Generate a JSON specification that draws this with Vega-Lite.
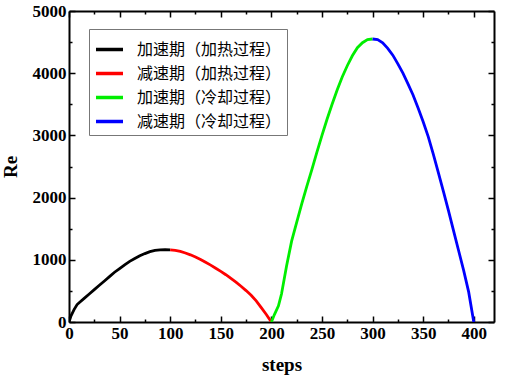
{
  "$schema": "https://vega.github.io/schema/vega-lite/v6.json",
  "autosize": {"type": "none"},
  "width": 425,
  "height": 311,
  "padding": {"left": 69, "top": 11, "right": 13, "bottom": 61},
  "background": "white",
  "config": {
    "view": {"stroke": null},
    "axis": {
      "domainColor": "black", "domainWidth": 2, "tickColor": "black", "tickWidth": 1.5,
      "labelFont": "Liberation Serif", "labelFontWeight": "bold", "labelFontSize": 17, "labelColor": "black",
      "titleFont": "Liberation Serif", "titleFontWeight": "bold", "titleFontSize": 19, "titleColor": "black",
      "grid": false
    }
  },
  "data": {"values": [
    {"s": "a", "x": 0, "y": 0}, {"s": "a", "x": 2, "y": 100}, {"s": "a", "x": 5, "y": 200}, {"s": "a", "x": 8, "y": 280},
    {"s": "a", "x": 10, "y": 310}, {"s": "a", "x": 15, "y": 380}, {"s": "a", "x": 20, "y": 450}, {"s": "a", "x": 25, "y": 520},
    {"s": "a", "x": 30, "y": 590}, {"s": "a", "x": 35, "y": 660}, {"s": "a", "x": 40, "y": 730}, {"s": "a", "x": 45, "y": 800},
    {"s": "a", "x": 50, "y": 860}, {"s": "a", "x": 55, "y": 920}, {"s": "a", "x": 60, "y": 975}, {"s": "a", "x": 65, "y": 1020},
    {"s": "a", "x": 70, "y": 1065}, {"s": "a", "x": 75, "y": 1100}, {"s": "a", "x": 80, "y": 1130}, {"s": "a", "x": 85, "y": 1150},
    {"s": "a", "x": 90, "y": 1160}, {"s": "a", "x": 95, "y": 1163}, {"s": "a", "x": 100, "y": 1160},
    {"s": "b", "x": 100, "y": 1160}, {"s": "b", "x": 105, "y": 1150}, {"s": "b", "x": 110, "y": 1135}, {"s": "b", "x": 115, "y": 1110},
    {"s": "b", "x": 120, "y": 1080}, {"s": "b", "x": 125, "y": 1045}, {"s": "b", "x": 130, "y": 1005}, {"s": "b", "x": 135, "y": 960},
    {"s": "b", "x": 140, "y": 915}, {"s": "b", "x": 145, "y": 865}, {"s": "b", "x": 150, "y": 815}, {"s": "b", "x": 155, "y": 760},
    {"s": "b", "x": 160, "y": 700}, {"s": "b", "x": 165, "y": 640}, {"s": "b", "x": 170, "y": 575}, {"s": "b", "x": 175, "y": 505},
    {"s": "b", "x": 180, "y": 430}, {"s": "b", "x": 185, "y": 340}, {"s": "b", "x": 190, "y": 230}, {"s": "b", "x": 195, "y": 120},
    {"s": "b", "x": 200, "y": 0},
    {"s": "c", "x": 200, "y": 0}, {"s": "c", "x": 203, "y": 120}, {"s": "c", "x": 207, "y": 260}, {"s": "c", "x": 210, "y": 450},
    {"s": "c", "x": 215, "y": 900}, {"s": "c", "x": 220, "y": 1300}, {"s": "c", "x": 225, "y": 1600}, {"s": "c", "x": 230, "y": 1900},
    {"s": "c", "x": 235, "y": 2180}, {"s": "c", "x": 240, "y": 2450}, {"s": "c", "x": 245, "y": 2730}, {"s": "c", "x": 250, "y": 3000},
    {"s": "c", "x": 255, "y": 3260}, {"s": "c", "x": 260, "y": 3500}, {"s": "c", "x": 265, "y": 3730}, {"s": "c", "x": 270, "y": 3940},
    {"s": "c", "x": 275, "y": 4120}, {"s": "c", "x": 280, "y": 4280}, {"s": "c", "x": 285, "y": 4410}, {"s": "c", "x": 290, "y": 4490},
    {"s": "c", "x": 295, "y": 4540}, {"s": "c", "x": 300, "y": 4550},
    {"s": "d", "x": 300, "y": 4550}, {"s": "d", "x": 305, "y": 4540}, {"s": "d", "x": 310, "y": 4490}, {"s": "d", "x": 315, "y": 4400},
    {"s": "d", "x": 320, "y": 4290}, {"s": "d", "x": 325, "y": 4150}, {"s": "d", "x": 330, "y": 4000}, {"s": "d", "x": 335, "y": 3830},
    {"s": "d", "x": 340, "y": 3650}, {"s": "d", "x": 345, "y": 3440}, {"s": "d", "x": 350, "y": 3220}, {"s": "d", "x": 355, "y": 2980},
    {"s": "d", "x": 360, "y": 2700}, {"s": "d", "x": 365, "y": 2400}, {"s": "d", "x": 370, "y": 2100}, {"s": "d", "x": 375, "y": 1790},
    {"s": "d", "x": 380, "y": 1470}, {"s": "d", "x": 385, "y": 1150}, {"s": "d", "x": 390, "y": 830}, {"s": "d", "x": 395, "y": 480},
    {"s": "d", "x": 400, "y": 0}
  ]},
  "transform": [
    {"calculate": "datum.s == 'a' ? '加速期（加热过程）' : datum.s == 'b' ? '减速期（加热过程）' : datum.s == 'c' ? '加速期（冷却过程）' : '减速期（冷却过程）'", "as": "series"}
  ],
  "resolve": {"axis": {"x": "independent", "y": "independent"}},
  "layer": [
    {
      "mark": {"type": "line", "strokeWidth": 2.8, "clip": true},
      "encoding": {
        "x": {"field": "x", "type": "quantitative", "scale": {"domain": [0, 420], "nice": false, "zero": false},
          "axis": {"title": "steps", "titlePadding": 14,
            "values": [0,25,50,75,100,125,150,175,200,225,250,275,300,325,350,375,400],
            "format": "d", "labelExpr": "datum.value % 50 == 0 ? datum.label : ''",
            "tickSize": {"condition": {"test": "datum.value % 50 == 0", "value": -6}, "value": -3},
            "labelPadding": 9, "labelFlush": false}},
        "y": {"field": "y", "type": "quantitative", "scale": {"domain": [0, 5000], "nice": false},
          "axis": {"title": "Re", "titlePadding": 12,
            "values": [0,500,1000,1500,2000,2500,3000,3500,4000,4500,5000],
            "format": "d", "labelExpr": "datum.value % 1000 == 0 ? datum.label : ''",
            "tickSize": {"condition": {"test": "datum.value % 1000 == 0", "value": -6}, "value": -3},
            "labelPadding": 9, "labelFlush": false}},
        "color": {"field": "series", "type": "nominal",
          "scale": {"domain": ["加速期（加热过程）", "减速期（加热过程）", "加速期（冷却过程）", "减速期（冷却过程）"],
                    "range": ["#000000", "#ff0000", "#00ee00", "#0000ff"]},
          "legend": {"title": null, "orient": "none", "legendX": 20, "legendY": 18,
            "symbolType": "stroke", "symbolSize": 729, "symbolStrokeWidth": 3.5,
            "labelFont": "Noto Sans CJK SC", "labelFontSize": 16, "labelColor": "black",
            "rowPadding": -3, "padding": 5, "strokeColor": "#777777", "fillColor": "white",
            "labelOffset": 12, "labelBaseline": "middle"}},
        "detail": {"field": "s"}
      }
    },
    {
      "mark": {"type": "line", "opacity": 0},
      "encoding": {
        "x": {"field": "x", "type": "quantitative",
          "axis": {"orient": "top", "title": null, "labels": false,
            "values": [0,25,50,75,100,125,150,175,200,225,250,275,300,325,350,375,400],
            "tickSize": {"condition": {"test": "datum.value % 50 == 0", "value": -6}, "value": -3}}},
        "y": {"field": "y", "type": "quantitative",
          "axis": {"orient": "right", "title": null, "labels": false,
            "values": [0,500,1000,1500,2000,2500,3000,3500,4000,4500,5000],
            "tickSize": {"condition": {"test": "datum.value % 1000 == 0", "value": -6}, "value": -3}}}
      }
    }
  ]
}
